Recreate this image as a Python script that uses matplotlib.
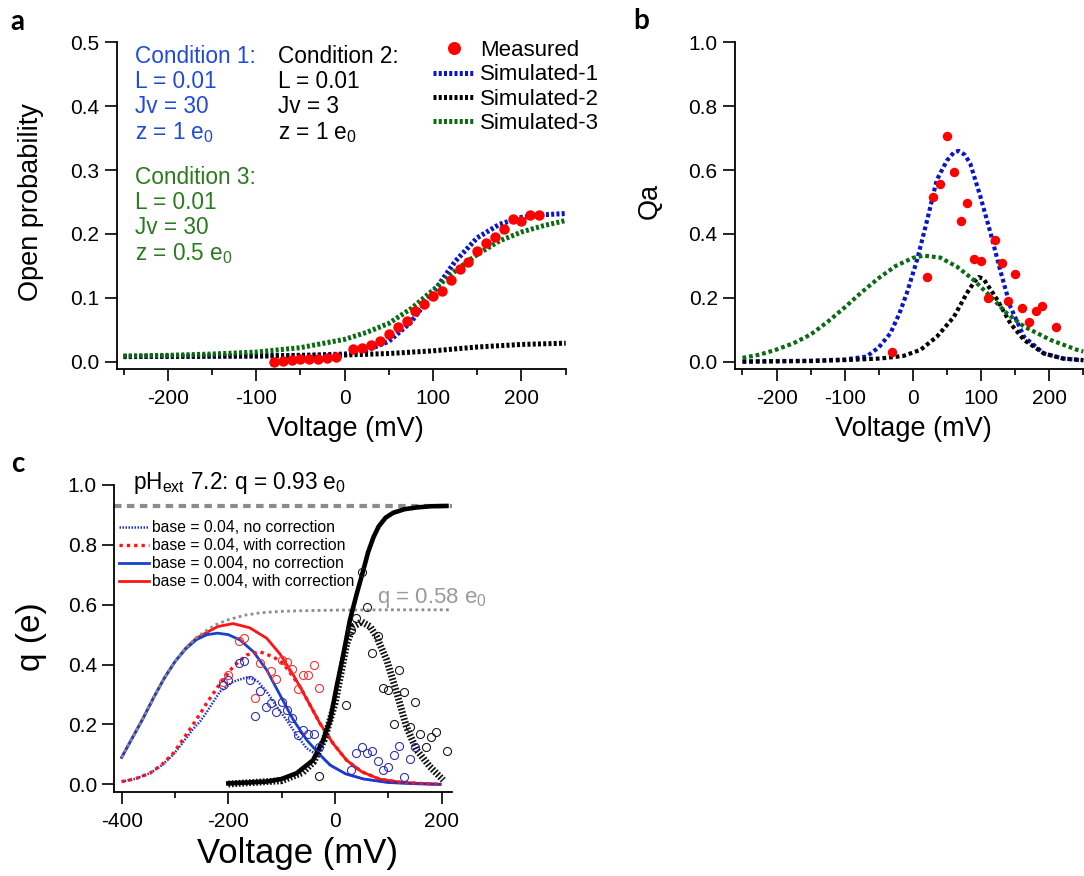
import matplotlib
matplotlib.use('Agg')
import matplotlib.pyplot as plt
from matplotlib.ticker import MultipleLocator

plt.rcParams['font.family'] = ['Liberation Sans', 'DejaVu Sans']
plt.rcParams['mathtext.fontset'] = 'custom'
plt.rcParams['mathtext.rm'] = 'Liberation Sans'
plt.rcParams['mathtext.it'] = 'Liberation Sans:italic'
plt.rcParams['mathtext.bf'] = 'Liberation Sans:bold'
plt.rcParams['axes.unicode_minus'] = False

# ---- panel a: open probability ----
v_meas_a = [-80, -70, -60, -50, -40, -30, -20, -10, 10, 20, 30, 40, 50, 60, 70, 80, 90,
            100, 110, 120, 130, 140, 150, 160, 170, 180, 190, 200, 210, 220]
po_meas = [0.000, 0.001, 0.003, 0.004, 0.004, 0.005, 0.006, 0.007, 0.020, 0.022, 0.026,
           0.033, 0.044, 0.055, 0.064, 0.079, 0.090, 0.103, 0.110, 0.128, 0.145, 0.156,
           0.174, 0.186, 0.195, 0.207, 0.223, 0.220, 0.230, 0.230]

v_sim1_a = [-250, -100, -50, 0, 25, 50, 75, 100, 125, 150, 175, 200, 225, 250]
po_sim1 = [0.008, 0.009, 0.010, 0.012, 0.018, 0.032, 0.062, 0.108, 0.157, 0.194, 0.215,
           0.226, 0.230, 0.232]
v_sim2_a = [-250, -100, -50, 0, 50, 100, 150, 200, 250]
po_sim2 = [0.008, 0.009, 0.0095, 0.0105, 0.0128, 0.017, 0.023, 0.027, 0.029]
v_sim3_a = [-250, -200, -150, -100, -50, 0, 25, 50, 75, 100, 125, 150, 175, 200, 225, 250]
po_sim3 = [0.009, 0.010, 0.012, 0.015, 0.022, 0.035, 0.046, 0.060, 0.083, 0.112, 0.142,
           0.168, 0.189, 0.203, 0.213, 0.221]

# ---- panel b: Qa ----
v_meas_b = [-30, 20, 30, 40, 50, 60, 70, 80, 90, 100, 110, 120, 130, 140, 150, 160, 170,
            180, 190, 210]
qa_meas = [0.029, 0.266, 0.517, 0.555, 0.708, 0.593, 0.440, 0.496, 0.321, 0.316, 0.200,
           0.382, 0.308, 0.190, 0.276, 0.167, 0.125, 0.159, 0.175, 0.110]

v_sim1_b = [-250, -150, -100, -68, -50, -33, -20, -9, 6, 21, 35, 50, 60, 67, 76, 84, 99, 114,
            128, 143, 163, 192, 220, 250]
qa_sim1 = [0.001, 0.003, 0.007, 0.016, 0.045, 0.089, 0.150, 0.214, 0.318, 0.444, 0.569,
           0.630, 0.655, 0.660, 0.648, 0.621, 0.517, 0.402, 0.287, 0.172, 0.078, 0.026,
           0.010, 0.004]
v_sim2_b = [-250, -150, -100, -48, -14, 11, 35, 60, 79, 90, 97, 104, 124, 143, 163, 192, 220,
            250]
qa_sim2 = [0.000, 0.002, 0.005, 0.010, 0.018, 0.037, 0.078, 0.140, 0.214, 0.250, 0.265,
           0.258, 0.193, 0.120, 0.068, 0.026, 0.010, 0.005]
v_sim3_b = [-250, -225, -200, -175, -150, -125, -100, -75, -50, -25, 0, 16, 40, 65, 89, 114,
            138, 163, 202, 241, 250]
qa_sim3 = [0.012, 0.022, 0.038, 0.058, 0.085, 0.125, 0.170, 0.218, 0.262, 0.300, 0.325,
           0.332, 0.326, 0.297, 0.256, 0.204, 0.151, 0.110, 0.068, 0.037, 0.032]

# ---- panel c: q(e) ----
v_env = [-400, -380, -360, -340, -320, -300, -280, -260, -240, -225, -200, -169, -140, -100,
         -60, 0, 100, 219]
q_env = [0.090, 0.155, 0.220, 0.290, 0.355, 0.410, 0.455, 0.490, 0.515, 0.532, 0.550, 0.565,
         0.573, 0.578, 0.580, 0.582, 0.583, 0.583]

v_blue_solid = [-400, -380, -360, -340, -320, -300, -280, -260, -240, -220, -200, -178, -153,
                -128, -103, -78, -53, -28, -9, 20, 53, 100, 150, 197]
q_blue_solid = [0.090, 0.155, 0.220, 0.290, 0.355, 0.410, 0.452, 0.483, 0.500, 0.505, 0.500,
                0.482, 0.443, 0.382, 0.298, 0.215, 0.148, 0.098, 0.064, 0.035, 0.018, 0.006,
                0.002, 0.000]
v_red_solid = [-400, -380, -360, -340, -320, -300, -280, -260, -240, -220, -191, -160, -128,
               -103, -78, -53, -28, -3, 22, 50, 84, 122, 160, 197]
q_red_solid = [0.090, 0.155, 0.220, 0.290, 0.355, 0.410, 0.455, 0.488, 0.508, 0.527, 0.537,
               0.523, 0.488, 0.435, 0.365, 0.285, 0.203, 0.135, 0.080, 0.042, 0.017, 0.007,
               0.003, 0.000]
v_blue_dot = [-400, -375, -347, -325, -303, -285, -266, -253, -241, -216, -191, -166, -147,
              -128, -109, -91, -72, -53, -35, -28, -9, 20, 53, 100, 150, 197]
q_blue_dot = [0.009, 0.018, 0.037, 0.063, 0.100, 0.140, 0.185, 0.210, 0.240, 0.309, 0.343,
              0.357, 0.348, 0.309, 0.259, 0.215, 0.165, 0.120, 0.100, 0.098, 0.064, 0.035,
              0.018, 0.006, 0.002, 0.000]
v_red_dot = [-400, -375, -347, -325, -303, -285, -266, -253, -241, -216, -191, -166, -141,
             -116, -97, -81, -65, -53, -28, -3, 22, 50, 84, 122, 160, 197]
q_red_dot = [0.009, 0.018, 0.037, 0.065, 0.104, 0.150, 0.200, 0.235, 0.270, 0.335, 0.393,
             0.432, 0.443, 0.426, 0.404, 0.365, 0.325, 0.285, 0.203, 0.135, 0.080, 0.042,
             0.017, 0.007, 0.003, 0.000]

v_black_solid = [-200, -128, -100, -72, -41, -22, -9, 3, 16, 28, 41, 53, 62, 72, 82, 95, 109,
                 130, 153, 180, 209]
q_black_solid = [0.003, 0.009, 0.018, 0.037, 0.081, 0.148, 0.215, 0.326, 0.437, 0.549, 0.638,
                 0.715, 0.775, 0.825, 0.862, 0.891, 0.907, 0.919, 0.925, 0.929, 0.930]
v_black_bell = [-200, -100, -60, -40, -20, 0, 10, 22, 34, 50, 66, 78, 97, 116, 134, 153, 178,
                203]
q_black_bell = [0.001, 0.012, 0.040, 0.075, 0.150, 0.270, 0.360, 0.470, 0.527, 0.543, 0.527,
                0.493, 0.415, 0.304, 0.192, 0.115, 0.059, 0.014]

v_red_pts = [-210, -200, -180, -170, -150, -140, -120, -110, -100, -90, -80, -70, -60, -50,
             -40, -30]
q_red_pts = [0.343, 0.365, 0.478, 0.490, 0.287, 0.404, 0.380, 0.351, 0.414, 0.410, 0.385,
             0.320, 0.365, 0.365, 0.397, 0.323]
v_blue_pts = [-210, -200, -180, -170, -160, -150, -140, -130, -120, -110, -100, -90, -80,
              -70, -60, -50, -40, -30, 30, 40, 50, 60, 70, 80, 90, 100, 110, 120, 130, 140,
              150]
q_blue_pts = [0.332, 0.348, 0.406, 0.413, 0.350, 0.228, 0.313, 0.257, 0.273, 0.243, 0.276,
              0.248, 0.222, 0.165, 0.181, 0.168, 0.168, 0.126, 0.048, 0.106, 0.126, 0.106,
              0.111, 0.079, 0.048, 0.059, 0.098, 0.129, 0.023, 0.083, 0.126]

q_total = 0.93

BLUE = '#0a14c8'
GREEN = '#0b6b12'
RED = '#ff0000'
TXT_BLUE = '#1f4bd8'
TXT_GREEN = '#2a7a1e'

W, H = 1084, 876
fig = plt.figure(figsize=(W / 100, H / 100), dpi=100)


def px_axes(l, t, r, b):
    return fig.add_axes([l / W, 1 - b / H, (r - l) / W, (b - t) / H])


def style(ax, xmaj, xmin, ymaj):
    for s in ['top', 'right']:
        ax.spines[s].set_visible(False)
    for s in ['left', 'bottom']:
        ax.spines[s].set_linewidth(1.3)
    ax.xaxis.set_major_locator(MultipleLocator(xmaj))
    ax.xaxis.set_minor_locator(MultipleLocator(xmin))
    ax.yaxis.set_major_locator(MultipleLocator(ymaj))
    ax.yaxis.set_major_formatter(plt.FormatStrFormatter('%.1f'))
    ax.tick_params(which='major', direction='out', length=8.5, width=1.2, labelsize=15)
    ax.tick_params(which='minor', direction='out', length=4.5, width=1.2)
    ax.tick_params(axis='x', pad=6)
    ax.tick_params(axis='y', pad=4)


# ---------------- a ----------------
ax = px_axes(116.5, 42.3, 565.7, 369.3)
l1, = ax.plot(v_sim1_a, po_sim1, color=BLUE, lw=3.6, ls=(0, (0.6, 0.45)), label='Simulated-1')
l2, = ax.plot(v_sim2_a, po_sim2, color='black', lw=3.6, ls=(0, (0.6, 0.45)), label='Simulated-2')
l3, = ax.plot(v_sim3_a, po_sim3, color=GREEN, lw=3.6, ls=(0, (0.6, 0.45)), label='Simulated-3')
m0, = ax.plot(v_meas_a, po_meas, 'o', color=RED, ms=7.5, mec='none', label='Measured')
ax.set_xlim(-258, 250)
ax.set_ylim(-0.0119, 0.5)
style(ax, 100, 50, 0.1)
ax.set_ylabel('Open probability', fontsize=19.5, va='center')
ax.yaxis.set_label_coords((31.4 - 116.5) / 449.2, 0.51)
ax.set_xlabel('Voltage (mV)', fontsize=19.5, va='baseline')
ax.xaxis.set_label_coords(0.51, (369.3 - 436) / 327)
ax.legend(handles=[m0, l1, l2, l3], loc='upper left', bbox_to_anchor=(433 / W, 1 - 40 / H),
          bbox_transform=fig.transFigure, frameon=False, fontsize=16, borderpad=0,
          borderaxespad=0, handlelength=1.9, handletextpad=0.2, labelspacing=0.15,
          markerscale=1.25)

cond = [
    (135.3, 63, TXT_BLUE, ['Condition 1:', 'L = 0.01', 'Jv = 30', r'z = 1 e$_0$']),
    (278.4, 63, 'black', ['Condition 2:', 'L = 0.01', 'Jv = 3', r'z = 1 e$_0$']),
    (135.3, 184, TXT_GREEN, ['Condition 3:', 'L = 0.01', 'Jv = 30', r'z = 0.5 e$_0$']),
]
for x0, y0, c, lines in cond:
    for i, s in enumerate(lines):
        fig.text(x0 / W, 1 - (y0 + 25.2 * i) / H, s, color=c, fontsize=16.3, va='baseline')

# ---------------- b ----------------
bx = px_axes(735, 42.3, 1084, 369.3)
bx.plot(v_sim1_b, qa_sim1, color=BLUE, lw=3.0, ls=(0, (0.9, 0.7)))
bx.plot(v_sim2_b, qa_sim2, color='black', lw=3.0, ls=(0, (0.9, 0.7)))
bx.plot(v_sim3_b, qa_sim3, color=GREEN, lw=3.0, ls=(0, (0.9, 0.7)))
bx.plot(v_meas_b, qa_meas, 'o', color=RED, ms=6.8, mec='none')
bx.set_xlim(-261, 251)
bx.set_ylim(-0.0238, 1.0)
style(bx, 100, 50, 0.2)
bx.set_ylabel('Qa', fontsize=19.5, va='center')
bx.yaxis.set_label_coords((650 - 735) / 349, 0.514)
bx.set_xlabel('Voltage (mV)', fontsize=19.5, va='baseline')
bx.xaxis.set_label_coords(0.51, (369.3 - 436) / 327)

# ---------------- c ----------------
cx = px_axes(114.3, 485, 451.7, 791.7)
cx.axhline(q_total, color='#8c8c8c', lw=3.0, ls=(0, (1.8, 1.3)), zorder=1)
r_sol, = cx.plot(v_red_solid, q_red_solid, color='#ff1414', lw=2.0, zorder=2,
                 label='base = 0.004, with correction')
b_sol, = cx.plot(v_blue_solid, q_blue_solid, color='#1444cc', lw=2.0, zorder=2.1,
                 label='base = 0.004, no correction')
cx.plot(v_env, q_env, color='#8c8c8c', lw=2.0, ls=(0, (1, 1.2)), zorder=2.2)
b_dot, = cx.plot(v_blue_dot, q_blue_dot, color='#2030d0', lw=1.8, ls=(0, (0.6, 0.6)), zorder=2.3,
                 label='base = 0.04, no correction')
r_dot, = cx.plot(v_red_dot, q_red_dot, color='#ff1414', lw=2.4, ls=(0, (1, 1.2)), zorder=2.4,
                 label='base = 0.04, with correction')
cx.plot(v_black_bell, q_black_bell, color='#111111', lw=5, ls=(0, (0.25, 0.25)), zorder=2.5)
cx.plot(v_black_solid, q_black_solid, color='black', lw=3.3, zorder=2.6)
cx.plot(v_red_pts, q_red_pts, 'o', mfc='none', mec='#ff3030', ms=5.8, mew=0.8, zorder=3)
cx.plot(v_blue_pts, q_blue_pts, 'o', mfc='none', mec='#3030b4', ms=5.8, mew=0.8, zorder=3)
cx.plot(v_meas_b, qa_meas, 'o', mfc='none', mec='#1a1a1a', ms=5.8, mew=0.8, zorder=3)
cx.set_xlim(-413.8, 218.8)
cx.set_ylim(-0.0247, 1.0)
style(cx, 200, 100, 0.2)
cx.set_ylabel('q (e)', fontsize=24, va='center')
cx.yaxis.set_label_coords(-0.245, 0.506)
cx.set_xlabel('Voltage (mV)', fontsize=25, va='baseline')
cx.xaxis.set_label_coords(0.543, -0.2315)
cx.text(0.0554, 0.987, r'pH$_{\mathrm{ext}}$ 7.2: q = 0.93 e$_0$', transform=cx.transAxes,
        fontsize=16.3, va='baseline', ha='left')
cx.text(78, 0.605, r'q = 0.58 e$_0$', color='#9a9a9a', fontsize=16, va='baseline',
        clip_on=False)
cx.legend(handles=[b_dot, r_dot, b_sol, r_sol], loc='upper left',
          bbox_to_anchor=(119 / W, 1 - 520 / H), bbox_transform=fig.transFigure,
          frameon=False, fontsize=11.3, borderpad=0, borderaxespad=0, handlelength=1.9,
          handletextpad=0.2, labelspacing=0.2)

# panel letters
for x0, y0, s in [(10, 30, 'a'), (633, 29, 'b'), (11, 472, 'c')]:
    fig.text(x0 / W, 1 - y0 / H, s, fontsize=20, fontweight='bold', family='Lato',
             va='baseline')

fig.savefig('out.png', dpi=100)
